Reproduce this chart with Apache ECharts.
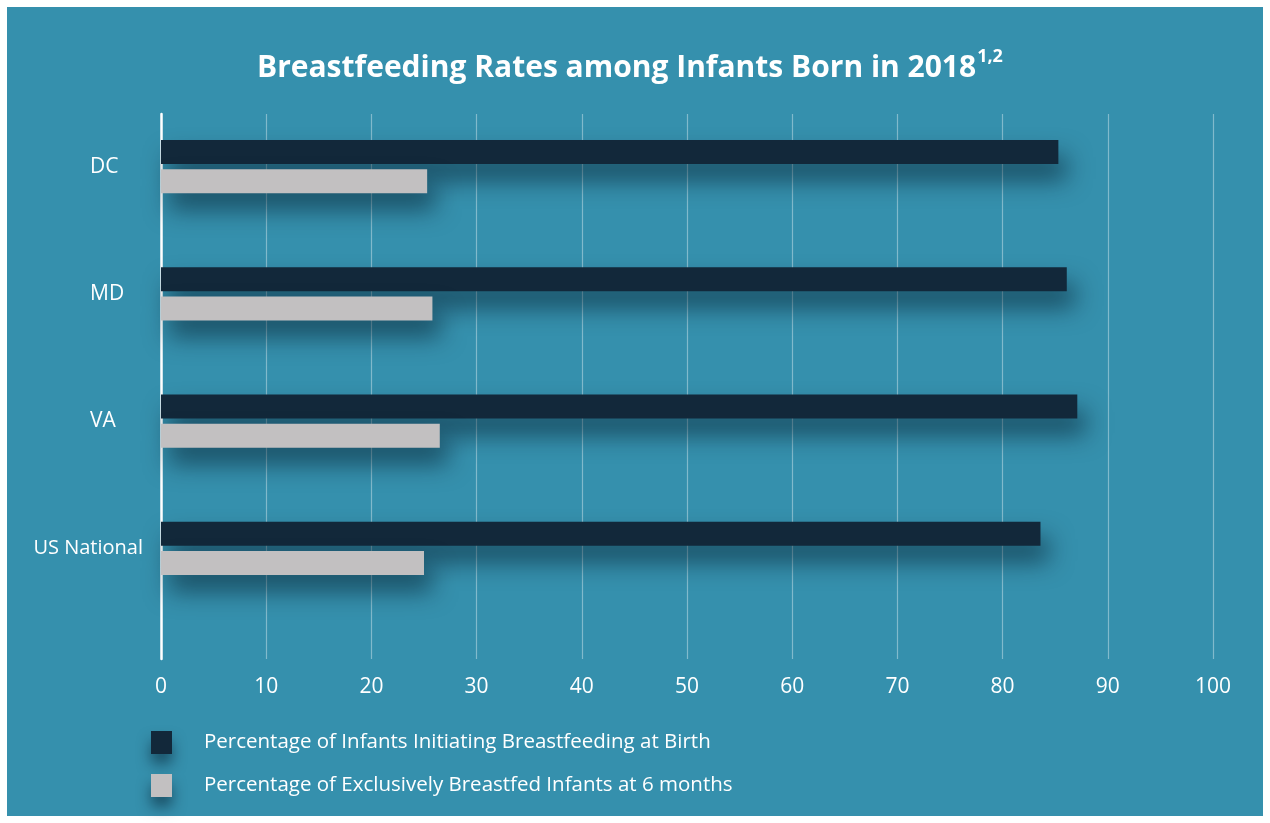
<!DOCTYPE html>
<html>
<head>
<meta charset="utf-8">
<script src="https://cdn.jsdelivr.net/npm/echarts@6/dist/echarts.min.js"></script>
<style>
  html, body { margin: 0; padding: 0; background: #ffffff; width: 1270px; height: 823px; overflow: hidden; }
  #bg { position: absolute; left: 7px; top: 7px; width: 1256px; height: 809px; background: #3590ad; }
  #chart { position: absolute; left: 0; top: 0; width: 1270px; height: 823px; }
</style>
</head>
<body>
<div id="bg"></div>
<div id="chart"></div>
<script>
const categories = ['DC', 'MD', 'VA', 'US National'];
const initiatingAtBirth = [85.3, 86.1, 87.1, 83.6];
const exclusiveAt6Months = [25.3, 25.8, 26.5, 25.0];
const seriesNames = [
  'Percentage of Infants Initiating Breastfeeding at Birth',
  'Percentage of Exclusively Breastfed Infants at 6 months'
];
const titleText = 'Breastfeeding Rates among Infants Born in 2018';
const titleSup = '1,2';

const FONT = '"Open Sans", sans-serif';
const shadow = { shadowColor: 'rgba(0,20,35,0.55)', shadowBlur: 24, shadowOffsetX: 8, shadowOffsetY: 16 };

const chart = echarts.init(document.getElementById('chart'));
chart.setOption({
  backgroundColor: 'transparent',
  animation: false,
  title: {
    text: '{m|' + titleText + '}{s|' + titleSup + '}',
    left: 252,
    top: 36,
    textStyle: {
      rich: {
        m: { color: '#ffffff', fontFamily: FONT, fontWeight: 'bold', fontSize: 30, lineHeight: 42, verticalAlign: 'bottom' },
        s: { color: '#ffffff', fontFamily: FONT, fontWeight: 'bold', fontSize: 18, lineHeight: 42, verticalAlign: 'top', padding: [7, 0, 0, 1] }
      }
    }
  },
  legend: {
    orient: 'vertical',
    left: 151,
    top: 731,
    padding: 0,
    itemWidth: 21,
    itemHeight: 23,
    itemGap: 20,
    icon: 'rect',
    itemStyle: { borderWidth: 0, shadowColor: 'rgba(0,20,35,0.5)', shadowBlur: 14, shadowOffsetX: 0, shadowOffsetY: 10 },
    textStyle: { color: '#ffffff', fontFamily: FONT, fontSize: 20.5, lineHeight: 23, padding: [0, 0, 0, 27] },
    data: seriesNames
  },
  grid: [
    { left: 161, right: 57, top: 103, bottom: 211 },
    { left: 161, right: 57, top: 114, bottom: 164 }
  ],
  xAxis: [
    { type: 'value', gridIndex: 0, min: 0, max: 100, show: false },
    {
      type: 'value', gridIndex: 1, min: 0, max: 100, interval: 10,
      axisLine: { show: false }, axisTick: { show: false },
      axisLabel: { color: '#ffffff', fontFamily: FONT, fontSize: 21, margin: 18 },
      splitLine: { show: true, lineStyle: { color: 'rgba(255,255,255,0.38)', width: 1.2 } }
    }
  ],
  yAxis: [
    {
      type: 'category', gridIndex: 0, inverse: true, data: categories,
      axisLine: { show: false }, axisTick: { show: false }, splitLine: { show: false },
      axisLabel: {
        align: 'right', margin: 18,
        formatter: function (v) { return v.length > 4 ? '{w|' + v + '}' : '{n|' + v + '}'; },
        rich: {
          n: { color: '#ffffff', fontFamily: FONT, fontSize: 21, width: 53, align: 'left' },
          w: { color: '#ffffff', fontFamily: FONT, fontSize: 20 }
        }
      }
    },
    {
      type: 'value', gridIndex: 1, min: 0, max: 1,
      axisLine: { show: true, onZero: false, lineStyle: { color: '#ffffff', width: 2.5 } },
      axisTick: { show: false }, axisLabel: { show: false }, splitLine: { show: false }
    }
  ],
  series: [
    {
      name: seriesNames[0], type: 'bar', xAxisIndex: 0, yAxisIndex: 0,
      data: initiatingAtBirth, barWidth: 24, barGap: '21%',
      itemStyle: Object.assign({ color: '#12283a' }, shadow)
    },
    {
      name: seriesNames[1], type: 'bar', xAxisIndex: 0, yAxisIndex: 0,
      data: exclusiveAt6Months, barWidth: 24, barGap: '21%',
      itemStyle: Object.assign({ color: '#c2c0c1' }, shadow)
    }
  ]
});
</script>
</body>
</html>
